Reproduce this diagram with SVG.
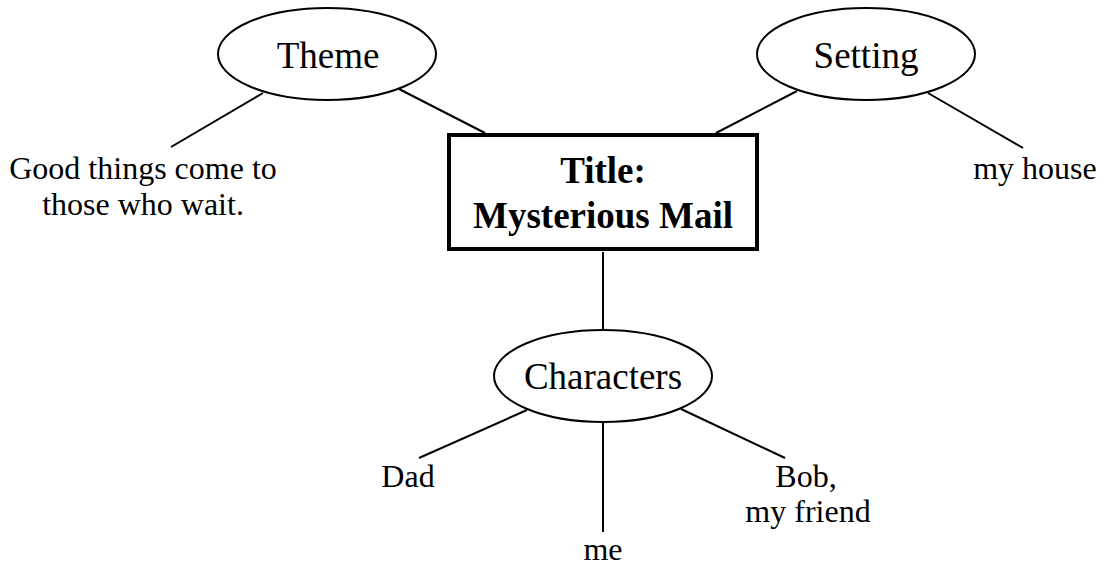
<svg xmlns="http://www.w3.org/2000/svg" width="1104" height="566" viewBox="0 0 1104 566">
<style>
.t{font-family:"Liberation Serif","Times New Roman",serif;fill:#000;text-anchor:middle}
.n{font-size:37px}
.l{font-size:32px}
.b{font-size:37px;font-weight:bold}
.e{fill:#fff;stroke:#000;stroke-width:2}
.c line{stroke:#000;stroke-width:2}
</style>
<rect width="1104" height="566" fill="#fff"/>
<g class="c" id="connectors">
<line x1="263" y1="93" x2="171" y2="147"/>
<line x1="399" y1="89" x2="485" y2="133"/>
<line x1="797" y1="91" x2="716" y2="133"/>
<line x1="928" y1="93" x2="1023" y2="148"/>
<line x1="603" y1="252" x2="603" y2="330"/>
<line x1="527" y1="410" x2="419" y2="458"/>
<line x1="603" y1="422" x2="603" y2="532"/>
<line x1="681" y1="409" x2="785" y2="458"/>
</g>
<g id="title">
<rect x="449" y="135" width="308" height="114" fill="#fff" stroke="#000" stroke-width="4"/>
<text class="t b" x="603" y="183">Title:</text>
<text class="t b" x="603" y="228">Mysterious Mail</text>
</g>
<g id="theme">
<ellipse class="e" cx="327" cy="54" rx="109" ry="46"/>
<text class="t n" x="328" y="68">Theme</text>
</g>
<g id="setting">
<ellipse class="e" cx="866" cy="54" rx="109" ry="46"/>
<text class="t n" x="866" y="68">Setting</text>
</g>
<g id="characters">
<ellipse class="e" cx="603" cy="376" rx="109" ry="46"/>
<text class="t n" x="603" y="389">Characters</text>
</g>
<g id="theme-text">
<text class="t l" x="143" y="179">Good things come to</text>
<text class="t l" x="143" y="215">those who wait.</text>
</g>
<g id="setting-text">
<text class="t l" x="1035" y="179">my house</text>
</g>
<g id="dad">
<text class="t l" x="408" y="487">Dad</text>
</g>
<g id="me">
<text class="t l" x="603" y="560">me</text>
</g>
<g id="bob">
<text class="t l" x="806" y="487">Bob,</text>
<text class="t l" x="808" y="522">my friend</text>
</g>
</svg>
